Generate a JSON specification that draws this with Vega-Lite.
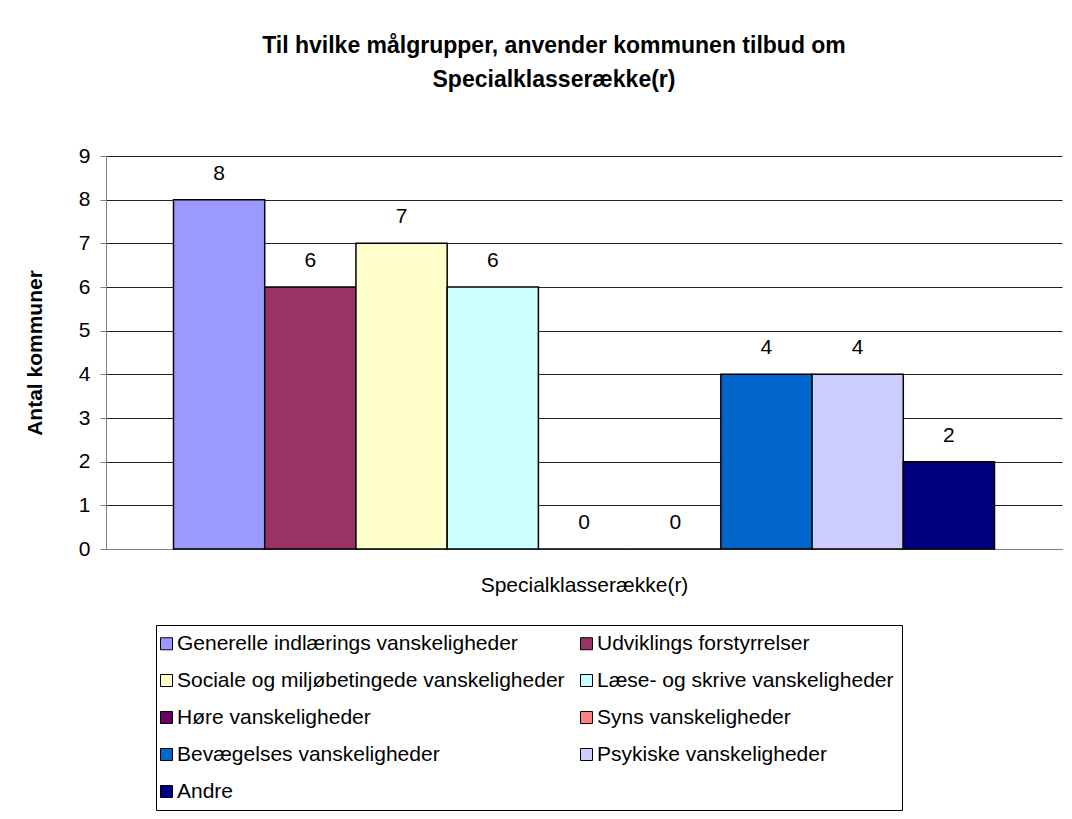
{
  "$schema": "https://vega.github.io/schema/vega-lite/v6.json",
  "width": 956,
  "height": 393,
  "autosize": {"type": "none"},
  "padding": {"left": 106, "top": 156, "right": 10, "bottom": 270},
  "background": "white",
  "config": {
    "font": "Liberation Sans",
    "view": {"stroke": null},
    "axis": {"labelFont": "Liberation Sans", "titleFont": "Liberation Sans"},
    "legend": {"labelFont": "Liberation Sans"}
  },
  "title": {
    "text": ["Til hvilke målgrupper, anvender kommunen tilbud om", "Specialklasserække(r)"],
    "font": "Liberation Sans",
    "fontSize": 23,
    "fontWeight": "bold",
    "lineHeight": 34,
    "anchor": "middle",
    "dx": -30,
    "offset": 53,
    "color": "black"
  },
  "data": {
    "values": [
      {"kategori": "Generelle indlærings vanskeligheder", "antal": 8},
      {"kategori": "Udviklings forstyrrelser", "antal": 6},
      {"kategori": "Sociale og miljøbetingede vanskeligheder", "antal": 7},
      {"kategori": "Læse- og skrive vanskeligheder", "antal": 6},
      {"kategori": "Høre vanskeligheder", "antal": 0},
      {"kategori": "Syns vanskeligheder", "antal": 0},
      {"kategori": "Bevægelses vanskeligheder", "antal": 4},
      {"kategori": "Psykiske vanskeligheder", "antal": 4},
      {"kategori": "Andre", "antal": 2}
    ]
  },
  "encoding": {
    "x": {
      "field": "kategori",
      "type": "nominal",
      "sort": null,
      "scale": {"paddingInner": 0, "paddingOuter": 0.74},
      "axis": {
        "title": "Specialklasserække(r)",
        "titleFontSize": 21,
        "titleFontWeight": "normal",
        "titleColor": "black",
        "titlePadding": 25,
        "labels": false,
        "ticks": false,
        "domainColor": "#808080",
        "domainWidth": 1
      }
    },
    "y": {
      "field": "antal",
      "type": "quantitative",
      "scale": {"domain": [0, 9], "nice": false},
      "axis": {
        "title": "Antal kommuner",
        "titleFontSize": 21,
        "titleFontWeight": "bold",
        "titleColor": "black",
        "titlePadding": 33,
        "values": [0, 1, 2, 3, 4, 5, 6, 7, 8, 9],
        "labelFontSize": 21,
        "labelColor": "black",
        "labelPadding": 10,
        "tickSize": 6,
        "tickColor": "#808080",
        "domainColor": "#808080",
        "grid": true,
        "gridColor": "#222222",
        "gridWidth": 1
      }
    }
  },
  "layer": [
    {
      "mark": {"type": "bar", "stroke": "black", "strokeWidth": 1.5},
      "encoding": {
        "fill": {
          "field": "kategori",
          "type": "nominal",
          "sort": null,
          "scale": {
            "domain": ["Generelle indlærings vanskeligheder", "Udviklings forstyrrelser", "Sociale og miljøbetingede vanskeligheder", "Læse- og skrive vanskeligheder", "Høre vanskeligheder", "Syns vanskeligheder", "Bevægelses vanskeligheder", "Psykiske vanskeligheder", "Andre"],
            "range": ["#9999FF", "#993366", "#FFFFCC", "#CCFFFF", "#660066", "#FF8080", "#0066CC", "#CCCCFF", "#000080"]
          },
          "legend": {
            "title": null,
            "orient": "none",
            "legendX": 50,
            "legendY": 469,
            "columns": 2,
            "direction": "horizontal",
            "strokeColor": "black",
            "fillColor": "white",
            "padding": 8,
            "labelFontSize": 21,
            "labelColor": "black",
            "labelLimit": 600,
            "labelOffset": 0,
            "symbolType": "square",
            "symbolSize": 144,
            "symbolOffset": -8,
            "symbolStrokeColor": "black",
            "symbolStrokeWidth": 1,
            "symbolOpacity": 1,
            "rowPadding": 15,
            "columnPadding": 13
          }
        }
      }
    },
    {
      "mark": {"type": "text", "fontSize": 21, "color": "black", "baseline": "middle", "dy": -26, "font": "Liberation Sans"},
      "encoding": {"text": {"field": "antal", "type": "quantitative"}}
    }
  ]
}
